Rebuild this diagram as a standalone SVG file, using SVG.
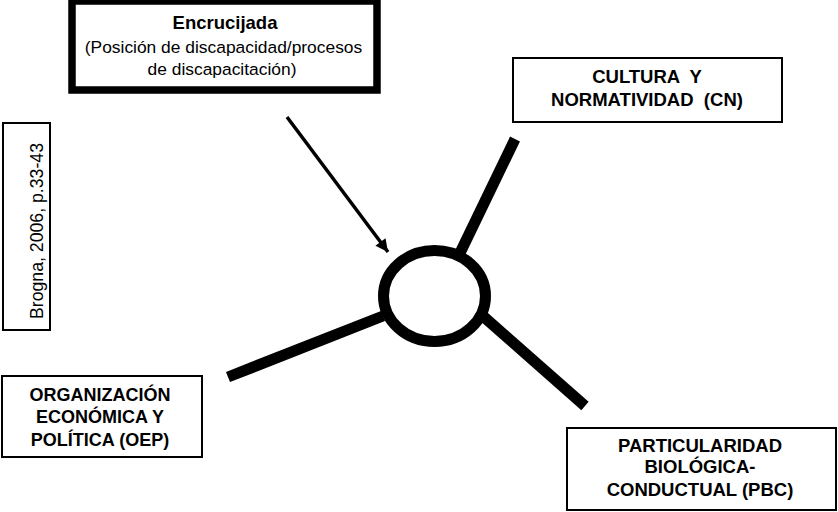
<svg xmlns="http://www.w3.org/2000/svg" width="838" height="512" viewBox="0 0 838 512">
<defs>
<style>
.box{fill:#fff;stroke:#000;stroke-width:2}
.t{font-family:"Liberation Sans",Arial,sans-serif;fill:#000;text-anchor:middle}
.b{font-weight:bold}
.c{stroke:#000;stroke-width:11;fill:none}
</style>
<marker id="ah" viewBox="0 0 10 10" refX="10" refY="5" markerWidth="4" markerHeight="3.6" orient="auto" markerUnits="strokeWidth">
<path d="M0,0 L10,5 L0,10 z" fill="#000"/>
</marker>
</defs>
<rect width="838" height="512" fill="#fff"/>
<g id="connectors">
<line class="c" x1="460" y1="253" x2="515" y2="139"/>
<line class="c" x1="383" y1="316" x2="228" y2="377"/>
<line class="c" x1="484" y1="317" x2="585" y2="406"/>
<line x1="287" y1="117" x2="388" y2="252" stroke="#000" stroke-width="3.5" marker-end="url(#ah)"/>
</g>
<g id="node-center">
<ellipse cx="434.5" cy="296" rx="51" ry="45.5" fill="#fff" stroke="#000" stroke-width="11"/>
</g>
<g id="node-encrucijada">
<rect x="72" y="1" width="305" height="89" fill="#fff" stroke="#000" stroke-width="7.5"/>
<text class="t b" x="225" y="29" font-size="18.5">Encrucijada</text>
<text class="t" x="223.5" y="53" font-size="17.4">(Posición de discapacidad/procesos</text>
<text class="t" x="222" y="75" font-size="17.4">de discapacitación)</text>
</g>
<g id="node-cn">
<rect class="box" x="513" y="58" width="269" height="64"/>
<text class="t b" x="647" y="83" font-size="18.5" style="white-space:pre">CULTURA  Y</text>
<text class="t b" x="647" y="106" font-size="18.5" style="white-space:pre">NORMATIVIDAD  (CN)</text>
</g>
<g id="node-brogna">
<rect class="box" x="3" y="123" width="47" height="207"/>
<text class="t" transform="translate(43,231) rotate(-90)" font-size="17.7">Brogna, 2006, p.33-43</text>
</g>
<g id="node-oep">
<rect class="box" x="2" y="376" width="200" height="81"/>
<text class="t b" x="100" y="401" font-size="18">ORGANIZACIÓN</text>
<text class="t b" x="100" y="423" font-size="18">ECONÓMICA Y</text>
<text class="t b" x="100" y="446" font-size="18">POLÍTICA (OEP)</text>
</g>
<g id="node-pbc">
<rect class="box" x="567" y="428" width="269" height="82"/>
<text class="t b" x="700" y="452" font-size="18.5">PARTICULARIDAD</text>
<text class="t b" x="700" y="473" font-size="18.5">BIOLÓGICA-</text>
<text class="t b" x="700" y="496" font-size="18.5">CONDUCTUAL (PBC)</text>
</g>
</svg>
